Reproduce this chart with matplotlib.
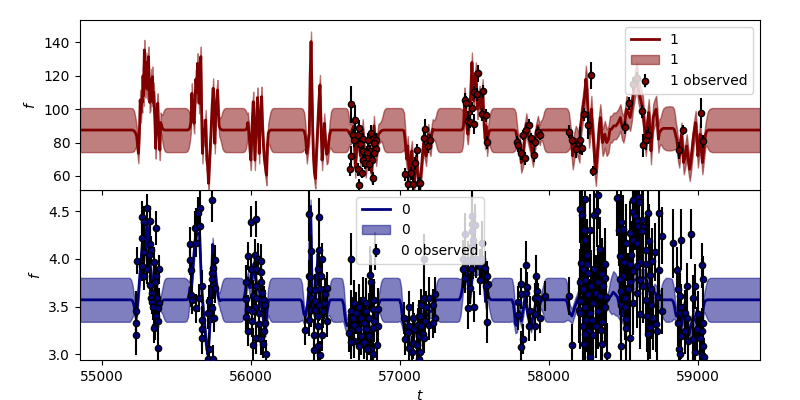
import matplotlib
matplotlib.use('Agg')
import matplotlib.pyplot as plt

# band half width across the edge of an empty stretch (out of data ... back into data)
edge1 = [6,8,11,12.7,13.2,13.2,12.7,11,8,6]
edge0 = [.1,.14,.19,.22,.23,.23,.22,.19,.14,.1]

# channel 1 (top panel): GP mean and sd at knots
gp1_t = [54852,55190,55205,55215,55224,55232,
         55244,55248,55252,55256,55261,55266,55270,55275,55279,55284,55288,55293,55298,55303,55307,55311,55316,55320,55325,55330,55334,55338,55343,55347,55351,55356,55360,55365,55370,55374,55379,55384,55388,55393,
         55398,55405,55413,55422,55432,55560,55572,55582,55590,55596,
         55603,55608,55613,55618,55624,55630,55636,55641,55646,55652,55657,55663,55668,55674,55681,55688,55696,55703,55709,55715,55722,55730,55738,55746,55752,55757,55763,55769,55775,55781,55786,
         55792,55800,55808,55818,55830,55945,55957,55967,55974,55979,
         55983,55988,55993,55999,56005,56010,56015,56020,56026,56032,56038,56044,56050,56055,56060,56066,56071,56077,56084,56090,56097,56104,56110,
         56116,56123,56131,56140,56150,56335,56347,56357,56364,56369,
         56375,56383,56391,56397,56403,56408,56414,56420,56426,56432,56440,56448,56456,56463,56470,56477,56485,56492,56500,56508,56515,
         56522,56529,56537,56546,56556,56635,56645,56652,56658,56664,
         56670,56680,56690,56700,56710,56720,56735,56750,56760,56770,56780,56790,56800,56810,56825,56840,56855,56866,
         56874,56882,56890,56899,56909,57005,57017,57027,57034,57040,
         57046,57052,57058,57065,57072,57080,57088,57095,57102,57110,57118,57125,57132,57139,57145,57152,57160,57168,57175,57183,57190,57198,57205,57212,57220,57226,
         57232,57240,57248,57257,57267,57400,57412,57420,57426,57430,
         57434,57440,57445,57450,57456,57463,57470,57476,57483,57489,57495,57502,57510,57515,57520,57527,57535,57545,57555,57560,57565,57572,57578,57585,
         57592,57600,57608,57617,57627,57755,57767,57777,57784,57790,
         57796,57803,57814,57826,57837,57848,57858,57870,57880,57893,57904,57915,57926,57938,57945,
         57952,57960,57968,57977,57987,58112,58124,58134,58141,58147,
         58154,58160,58170,58180,58192,58205,58212,58220,58230,58240,58248,58255,58262,58270,58278,58285,58292,58300,58308,58315,58322,58330,58338,58345,58352,58360,58368,58375,58388,58400,58410,58420,58435,58450,58465,58480,58490,58500,58510,58520,58532,58545,58555,58565,58578,58590,58600,58610,58620,58630,58640,58650,58660,58670,58678,58685,58692,58700,58710,58720,58728,58735,58742,
         58750,58758,58768,58785,58800,58815,58830,58840,58847,58852,
         58858,58866,58875,58883,58890,58898,58905,58915,58925,58935,58945,58952,58960,58972,58985,58992,59000,59008,59015,59022,59030,59038,59045,
         59052,59060,59069,59080,59095,59200,59417]
gp1_mean = [87.5,87.5,87.5,87,86,84,
            73.6,82,90,105.5,98,106,104,120,108,135.5,118,113,128,112,120,131.5,118,104,105.5,118,108,119.5,104,110,101.5,90,76.5,92,100,103.5,88,82,75.5,92,
            91,88.5,87.7,87.5,87.5,87.5,87.5,87.8,89,92,
            109.5,100,96,91.5,104,118,110,127.5,116,103.5,118,131.5,100,73.5,88,84,93.5,70,66,55.6,70,83.5,100,112.5,95,79.5,96,106,111.5,98,90,
            88.5,87.7,87.5,87.5,87.5,87.5,87.5,87.8,89,92,
            88,83.5,76,69.5,85,96,104.5,88,69.5,84,98,107,88,73.5,88,100,107.5,90,77.5,70,65,60.5,78,
            85.5,87,87.5,87.5,87.5,87.5,87.5,87,84,80,
            73.5,80,85.5,120,140.5,115,87,70,62,58.5,75,89.5,105,114.5,90,69.5,80,91.5,80,73,74,
            80,85,87.5,87.5,87.5,87.5,87.5,87,86,85,
            85,88,90,65,78,85,72,88,75,65,72,78,70,62,90,72,85,86,
            87,87.3,87.5,87.5,87.5,87.5,87.5,87,82,75,
            70,78,68,60,70,75,62,55,65,72,62,56,55,60,65,74,80,76,72,80,85,80,78,84,88,87.5,
            87.5,87.5,87.5,87.5,87.5,87.5,87.5,88,90,96,
            107,100,95,88,85,92,100,112,128,115,105,115,122,110,100,104,108,100,112,100,90,82,90,78,
            84,87,87.5,87.5,87.5,87.5,87.5,87,84,81,
            78,79.5,68,71.5,84,91.5,86,81.5,78,71.5,80,85.5,90,84.5,87,
            87.5,87.5,87.5,87.5,87.5,87.5,87.5,87,85,82,
            78,72,78,82,80,76,90,95,102,108,118,112,98,85,92,100,88,80,68,62,70,80,90,95,88,80,82,85,80,82,88,88,90,90,92,95,90,88,92,100,98,95,100,108,115,120,112,108,104,100,90,80,90,98,88,75,85,95,98,100,92,82,86,
            87,88,88.5,88.5,88.5,88.5,88.5,88,86,84,
            82,76,72,80,85,76,68,72,78,70,64,68,75,85,92,84,72,78,85,78,68,74,80,
            85,87,87.5,87.5,87.5,87.5,87.5]
gp1_sd = ([13.2,13.2,13,12,9,6] + [6]*34 + edge1 + [6]*31 + edge1 + [6]*23 + edge1 + [6]*21 + edge1 + [6]*18 + edge1
          + [6]*26 + edge1 + [6]*24 + edge1 + [6]*15 + edge1 + [8]*63 + [8,10,12,13,13.2,13.2,13,12,10,8] + [7]*23
          + [7,9,11.5,12.7,13.2,13.2,13.2])

# channel 1 observations
t1 = [56669,56696,56723,56683,56716,56689,56750,56786,56804,56839,
      56828,56732,56839,56750,56799,56777,56828,56671,56777,56750,
      56813,56768,56795,56662,56718,56743,56817,56723,57113,57099,
      57037,57073,57052,57086,57126,
      57135,57167,57160,57203,57187,
      57434,57445,57483,57523,57494,57516,57557,57456,57472,57496,57548,57577,57584,
      57785,57794,57814,57839,57866,57848,57826,57879,57906,57900,57927,57942,
      58137,58157,58211,58222,58180,58236,58263,58283,58296,
      58511,58538,58565,58592,58646,58626,58632,58653,58666,58875,58901,59022,59036]
f1 = [102.9,93.5,88.5,84.3,84.3,81.3,82,81.6,85.7,81.6,
      79.6,79,76,74.8,74.8,74,73.6,72,70.6,69.6,
      69.6,68,67.2,64,64,61.6,58.6,54.4,75.4,67.6,
      61,61.6,55.2,55.2,55.6,
      55.6,88,82.6,81.4,77.8,
      105.5,103.9,100.5,121.5,110,108.9,110.7,92.9,92.5,90.9,96.9,96.3,80.2,
      80.2,78.6,73.6,70.6,90.3,87.3,84.7,82.7,80.6,72.6,86.1,84.7,
      86.5,81.4,81.4,76.6,75.9,96.9,90.3,120.3,62.8,
      89.1,103.5,115.1,118.5,116.7,98.7,78.4,81.8,84.3,75.4,87.3,97.5,80.8]
e1 = [11,9,5,4,4,4,4,4,5,4,
      4,4,4,4,4,4,4,6,4,4,
      4,4,4,4,4,3,4,4,4,4,
      4,4,4,4,4,
      4,6,4,4,4,
      4,4,4,5,4,4,4,6,4,6,4,4,4,
      4,4,4,4,4,3,3,3,3,4,3,3,
      4,3,8,4,5,4,8,8,3,
      4,4,4,4,4,4,7,6,5,5,3,9,4]

# channel 0 (bottom panel): GP mean and sd at knots
gp0_t = [54852,55170,55185,55195,55204,55212,
         55222,55230,55240,55255,55270,55282,55292,55304,55318,55340,55360,55372,55380,55386,55392,
         55398,55406,55414,55423,55433,55555,55567,55577,55584,55590,
         55600,55612,55625,55640,55655,55668,55680,55690,55700,55710,55720,55735,55742,55750,55758,55770,55780,55787,
         55792,55800,55808,55817,55827,55930,55942,55952,55959,55965,
         55972,55980,55990,56000,56010,56020,56030,56040,56060,56070,56080,56088,56095,56102,
         56108,56115,56123,56132,56142,56320,56332,56342,56349,56355,
         56365,56378,56390,56400,56412,56430,56440,56450,56460,56470,56490,56505,56512,
         56518,56526,56534,56543,56553,56600,56612,56622,56629,56635,
         56645,56655,56670,56690,56700,56720,56740,56755,56770,56785,56800,56820,56840,56852,
         56858,56866,56874,56883,56893,56985,56997,57007,57014,57020,
         57028,57035,57060,57080,57100,57130,57150,57165,57180,57200,57215,57226,
         57232,57240,57248,57257,57267,57385,57397,57407,57414,57420,
         57428,57435,57450,57470,57490,57520,57555,57575,57583,57590,
         57596,57604,57612,57621,57631,57740,57752,57762,57769,57775,
         57785,57800,57815,57840,57860,57880,57915,57935,57945,
         57951,57959,57967,57976,57986,58100,58112,58122,58129,58135,
         58145,58155,58175,58200,58230,58280,58330,58375,58390,
         58400,58410,58420,58432,58445,58460,58475,
         58485,58500,58515,58550,58600,58650,58690,58710,58730,58742,
         58750,58758,58768,58785,58805,58825,58835,58843,58848,
         58855,58870,58890,58915,58940,58970,59000,59015,59030,59038,
         59045,59052,59060,59070,59082,59200,59417]
gp0_mean = [3.57,3.57,3.57,3.57,3.56,3.53,
            3.45,3.40,3.55,3.85,4.15,4.35,4.05,4.35,4.0,3.7,3.85,3.6,3.6,3.55,3.52,
            3.54,3.56,3.57,3.57,3.57,3.57,3.57,3.58,3.62,3.7,
            3.7,3.95,4.2,4.27,4.25,3.7,3.45,3.28,3.1,3.0,3.2,3.7,4.15,4.0,3.9,3.7,3.6,3.57,
            3.56,3.57,3.57,3.57,3.57,3.57,3.57,3.58,3.63,3.7,
            3.75,3.8,3.7,3.7,3.85,3.95,3.8,3.7,3.65,3.5,3.4,3.3,3.25,3.35,
            3.45,3.55,3.57,3.57,3.57,3.57,3.57,3.55,3.48,3.42,
            3.4,3.5,3.7,4.55,3.5,3.45,3.8,4.05,3.75,3.5,3.6,3.4,3.45,
            3.5,3.55,3.57,3.57,3.57,3.57,3.57,3.52,3.42,3.35,
            3.3,3.3,3.4,3.4,3.5,3.4,3.3,3.4,3.5,3.35,3.2,3.3,3.4,3.5,
            3.53,3.56,3.57,3.57,3.57,3.57,3.57,3.52,3.42,3.35,
            3.3,3.3,3.2,3.25,3.3,3.1,3.4,3.35,3.4,3.45,3.45,3.5,
            3.53,3.56,3.57,3.57,3.57,3.57,3.57,3.6,3.65,3.7,
            3.85,4.0,3.8,3.6,3.9,3.9,3.95,3.55,3.62,3.65,
            3.6,3.58,3.57,3.57,3.57,3.57,3.57,3.52,3.42,3.32,
            3.3,3.45,3.35,3.6,3.4,3.3,3.55,3.5,3.55,
            3.56,3.57,3.57,3.57,3.57,3.57,3.57,3.55,3.5,3.45,
            3.42,3.4,3.5,3.6,3.6,3.7,3.55,3.5,3.55,
            3.57,3.6,3.62,3.65,3.63,3.6,3.5,
            3.45,3.4,3.6,3.75,3.8,3.8,3.6,3.65,3.6,3.58,
            3.57,3.57,3.57,3.57,3.57,3.57,3.55,3.5,3.45,
            3.4,3.4,3.3,3.55,3.2,3.4,3.3,3.35,3.4,3.5,
            3.55,3.56,3.57,3.57,3.57,3.57,3.57]
gp0_sd = ([.23,.23,.23,.21,.17,.11] + [.07]*15 + edge0 + [.07]*18 + edge0 + [.07]*14 + edge0 + [.07]*13 + edge0 + [.07]*14 + edge0
          + [.07]*12 + edge0 + [.07]*10 + edge0 + [.07]*9 + edge0 + [.08]*9 + [.1,.16,.2,.22,.22,.2,.14] + [.09]*10
          + [.1,.16,.2,.23,.23,.22,.18,.13,.1] + [.08]*10 + [.11,.15,.19,.22,.23,.23,.23])

# channel 0 observations
t0 = [55230,55230,55230,55237,55271,55271,55282,55304,55322,55365,55322,55327,55282,55316,55349,55271,55304,55383,55282,55365,55356,55322,55334,55327,55372,55334,55383,55342,55378,55365,55378,55356,55349,55378,
      55591,55591,55596,55629,55623,55647,55656,55656,55634,55735,55759,55748,55741,55741,55748,55759,55674,55596,55602,55652,55634,55719,55741,55708,55670,55750,55674,55674,55719,55708,55748,
      55977,56001,56033,56026,56048,56066,56001,56033,56066,55966,56066,56033,56015,56073,55966,56033,56089,55977,56028,55966,56010,56051,56096,56010,56051,56093,55983,56089,56033,56066,56015,56082,56100,
      56391,56454,56400,56454,56474,56447,56470,56387,56396,56398,56427,56463,56508,56494,56403,56432,56492,56458,56403,56432,56481,56387,56447,56508,56447,56360,56425,56474,56447,56420,56461,
      56672,56835,56799,56806,56750,56694,56772,56828,56723,56672,56705,56772,56817,56851,56683,56739,56795,56694,56761,56828,56851,56672,56716,56772,56817,56656,56739,56795,56694,56761,56844,56727,56806,56672,56777,56817,
      57059,57030,57086,57064,57037,57052,57097,57120,57086,57064,57082,57126,57113,57131,
      57131,57160,57160,57198,57232,57142,57176,57221,57232,57135,57171,57198,57142,57153,57158,57221,57135,
      57483,57483,57501,57438,57483,57490,57550,57483,57422,57456,57490,57512,57550,57422,57478,57534,57568,57434,57534,57586,57467,57590,57575,57456,57496,57586,
      57846,57913,57814,57853,57922,57814,57844,57971,57792,57904,57927,57792,57871,57904,57942,57866,57904,57826,57814,58135,58155,
      58245,58207,58222,58330,58323,58301,58234,58274,58245,58343,58258,58213,58258,58375,58229,58301,58359,58263,58207,58245,58330,58375,58285,58229,58319,58364,58207,58263,58341,58381,58202,58296,58240,58375,58211,58274,58330,58247,58292,58359,58229,58319,58263,58352,58240,58296,58234,58359,58278,58390,
      58458,58565,58599,58603,58565,58666,58738,58576,58628,58588,58487,58599,58632,58469,58500,58547,58628,58760,58565,58592,58673,58520,58655,58715,58476,58554,58610,58695,58502,58547,58588,58655,58740,58498,58476,58565,58610,58677,58547,58632,58482,58532,58588,58688,58733,58509,58655,58487,58565,58688,58509,58762,58610,58659,58520,58700,58722,58520,58677,58662,58727,58547,58485,
      58955,58834,58890,59025,58861,59036,58924,58980,58868,58879,58969,58890,59002,58879,58913,58924,59031,58868,58913,58991,59025,58890,58935,58969,59013,59036,58874,58980,58879,59025,59040]
f0 = [3.45,3.33,3.20,3.98,4.22,4.44,4.39,4.53,4.40,4.32,4.15,4.09,4.07,4.04,3.97,3.92,3.89,3.89,3.82,3.82,3.76,3.73,3.64,3.59,3.59,3.55,3.54,3.49,3.48,3.40,3.35,3.30,3.27,3.07,
      4.15,3.99,3.88,4.33,4.32,4.48,4.53,4.34,4.17,4.62,3.99,3.90,3.85,3.79,3.73,3.69,3.71,3.62,3.57,3.59,3.48,3.56,3.48,3.43,3.36,3.38,3.26,3.17,3.05,2.95,2.95,
      4.03,4.39,4.42,4.04,4.0,3.98,3.89,3.89,3.86,3.76,3.76,3.71,3.61,3.64,3.58,3.59,3.57,3.47,3.50,3.39,3.45,3.43,3.52,3.35,3.32,3.33,3.24,3.24,3.17,3.16,3.10,3.11,3.0,
      4.47,4.44,4.08,4.09,4.0,3.89,3.82,3.82,3.81,3.68,3.67,3.68,3.69,3.63,3.59,3.56,3.54,3.52,3.46,3.46,3.45,3.36,3.40,3.35,3.30,3.25,3.20,3.20,3.09,3.04,2.99,
      4.0,4.08,3.83,3.76,3.57,3.54,3.54,3.57,3.50,3.45,3.43,3.45,3.47,3.47,3.38,3.38,3.38,3.31,3.33,3.35,3.30,3.24,3.26,3.26,3.28,3.22,3.19,3.19,3.14,3.13,3.10,3.09,3.05,3.13,3.05,3.0,
      3.49,3.38,3.38,3.30,3.16,3.23,3.26,3.31,3.12,3.07,3.02,3.19,3.10,3.40,
      2.95,4.0,3.59,3.59,3.63,3.52,3.50,3.52,3.38,3.40,3.35,3.31,3.30,3.21,3.17,3.33,3.02,
      4.45,4.36,4.35,4.26,4.29,4.20,4.16,4.13,4.0,3.99,3.99,4.0,4.0,3.89,3.89,3.92,3.90,3.80,3.78,3.82,3.69,3.74,3.72,3.48,3.50,3.34,
      3.93,3.82,3.74,3.70,3.66,3.63,3.64,3.61,3.55,3.59,3.59,3.41,3.45,3.42,3.38,3.30,3.30,3.16,3.08,3.61,3.10,
      4.63,4.52,4.46,4.67,4.50,4.46,4.30,4.30,4.20,4.10,4.04,3.96,3.95,3.94,3.89,3.89,3.84,3.85,3.76,3.78,3.76,3.80,3.71,3.68,3.64,3.71,3.56,3.63,3.61,3.60,3.46,3.54,3.49,3.50,3.43,3.43,3.45,3.36,3.36,3.34,3.30,3.30,3.24,3.25,3.21,3.20,3.11,3.11,2.97,2.99,
      4.64,4.62,4.65,4.59,4.49,4.48,4.48,4.45,4.41,4.40,4.39,4.34,4.33,4.30,4.31,4.27,4.29,4.24,4.20,4.16,4.19,4.17,4.09,4.07,4.03,4.04,3.97,3.98,3.97,3.94,3.92,3.94,3.88,3.82,3.79,3.87,3.78,3.83,3.76,3.71,3.66,3.68,3.64,3.68,3.60,3.59,3.57,3.52,3.54,3.52,3.49,3.45,3.42,3.40,3.37,3.38,3.32,3.28,3.29,3.21,3.24,3.17,3.09,
      4.26,4.16,4.20,3.93,3.88,3.79,3.72,3.71,3.68,3.61,3.59,3.50,3.42,3.43,3.43,3.38,3.33,3.33,3.24,3.26,3.24,3.19,3.14,3.16,3.17,3.09,3.05,3.02,3.0,2.99,2.97]
e0 = ([.21,.15,.21,.14,.16,.17,.16,.15,.15,.18,.15,.15,.15,.15,.15,.15,.15,.15,.15,.16,.15,.15,.13,.13,.15,.13,.15,.13,.15,.15,.15,.15,.15,.17]
      + [.18,.16,.13,.2,.18,.17,.18,.15,.15,.24,.15,.15,.15,.15,.15,.15,.17,.13,.15,.15,.15,.17,.15,.17,.15,.15,.17,.17,.17,.15,.15]
      + [.15,.16,.19,.17,.17,.17,.15,.15,.15,.17,.17,.15,.17,.17,.17,.17,.15,.15,.17,.17,.17,.17,.15,.17,.17,.15,.15,.15,.17,.17,.17,.15,.15]
      + [.28,.2,.17,.17,.17,.17,.17,.17,.17,.17,.17,.17,.17,.17,.17,.17,.17,.17,.17,.17,.17,.17,.17,.17,.17,.15,.17,.17,.17,.15,.15]
      + [.27,.2,.3,.28,.24,.24,.26,.22,.24,.22,.22,.26,.26,.22,.22,.22,.26,.2,.22,.22,.2,.2,.2,.22,.22,.2,.2,.2,.18,.18,.18,.18,.18,.18,.18,.18]
      + [.17]*14 + [.17,.26,.22,.22,.18,.16,.16,.16,.16,.16,.16,.16,.16,.16,.16,.16,.16]
      + [.28,.24,.22,.22,.22,.22,.24,.22,.2,.2,.2,.2,.22,.2,.18,.18,.18,.16,.16,.16,.16,.16,.16,.22,.16,.22]
      + [.26,.22,.16,.16,.16,.16,.16,.16,.16,.16,.16,.16,.16,.16,.16,.16,.16,.16,.16,.2,.22]
      + [.4,.36,.34,.36,.38,.38,.36,.38,.4,.34,.38,.34,.4,.38,.38,.36,.38,.4,.34,.36,.38,.4,.38,.36,.4,.38,.36,.4,.38,.36,.34,.38,.36,.4,.38,.36,.4,.34,.38,.36,.36,.34,.38,.36,.38,.34,.36,.38,.34,.34]
      + [.4,.36,.38,.34,.38,.32,.38,.36,.38,.34,.38,.36,.4,.38,.36,.34,.38,.3,.38,.36,.38,.4,.36,.3,.38,.36,.38,.34,.36,.38,.36,.38,.3,.36,.38,.4,.36,.38,.34,.38,.36,.38,.36,.34,.3,.38,.36,.38,.34,.36,.34,.24,.36,.38,.36,.34,.3,.36,.34,.36,.3,.34,.3]
      + [.26,.36,.32,.24,.24,.24,.24,.24,.24,.24,.24,.24,.24,.24,.24,.24,.24,.24,.24,.24,.24,.24,.24,.24,.24,.24,.24,.24,.2,.2,.2])

fig, axs = plt.subplots(2, 1, figsize=(8, 4), sharex=True)
fig.subplots_adjust(left=0.1, right=0.95, top=0.95, bottom=0.1, hspace=0)

def draw(ax, t, mean, sd, to, fo, eo, color, label):
    lo = [m - s for m, s in zip(mean, sd)]
    hi = [m + s for m, s in zip(mean, sd)]
    ax.plot(t, mean, color=color, lw=2, label=label)
    ax.fill_between(t, lo, hi, color=color, alpha=0.5, label=label)
    ax.errorbar(to, fo, yerr=eo, fmt='o', color=color, ecolor='k', mec='k', mew=1, ms=4.5,
                label=label + ' observed', zorder=3)
    ax.set_ylabel('$f$')

draw(axs[0], gp1_t, gp1_mean, gp1_sd, t1, f1, e1, '#800000', '1')
draw(axs[1], gp0_t, gp0_mean, gp0_sd, t0, f0, e0, '#000080', '0')

axs[0].set_ylim(51.6, 153.4)
axs[1].set_ylim(2.94, 4.72)
axs[1].set_xlim(54852, 59417)
axs[1].set_xlabel('$t$')
axs[0].legend(loc='upper right')
axs[1].legend(loc='upper center')
axs[0].set_zorder(2)  # top panel's ticks show over the lower panel

fig.savefig('out.png', dpi=100)
